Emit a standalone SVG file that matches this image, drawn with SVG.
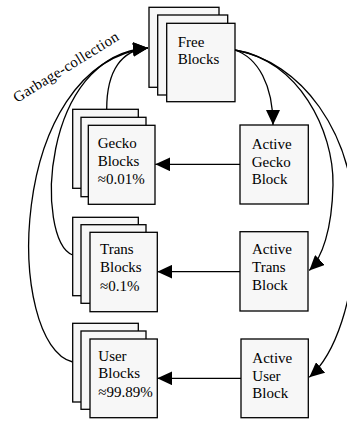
<svg xmlns="http://www.w3.org/2000/svg" width="347" height="422" viewBox="0 0 347 422">
<style>
  .box { fill: #f7f7f7; stroke: #000; stroke-width: 1.3; }
  .lbl { font-family: "Liberation Serif", "DejaVu Serif", serif; font-size: 15px; fill: #000; }
  .edge { fill: none; stroke: #000; stroke-width: 1.3; marker-end: url(#arr); }
  .edge2 { fill: none; stroke: #000; stroke-width: 1.3; }
</style>
<defs>
  <marker id="arr" viewBox="0 0 15 14" refX="15" refY="7" markerWidth="15" markerHeight="14" markerUnits="userSpaceOnUse" orient="auto">
    <path d="M0,0 L15,7 L0,14 z" fill="#000"/>
  </marker>
</defs>
<rect width="347" height="422" fill="#fff"/>

<g id="connectors">
  <!-- garbage collection to free blocks -->
  <path class="edge" d="M106.7,109.3 C106.7,70 122,50 148,48"/>
  <path class="edge" d="M72.7,255 C35,240 40,55 148,48"/>
  <path class="edge" d="M72.7,362 C5,345 5,65 148,48"/>
  <!-- free to active -->
  <path class="edge" d="M235,50 C258,58 273,85 273,125"/>
  <path class="edge" d="M235,50 C298,60 334,130 333,185 C332,230 322,258 309.3,270.5"/>
  <path class="edge" d="M235,50 C300,62 355,130 355,230 C355,300 335,355 309.3,377.3"/>
  <!-- active to stacks -->
  <path class="edge" d="M240,164.3 L155.3,164.3"/>
  <path class="edge" d="M240,271.7 L157.3,271.7"/>
  <path class="edge" d="M241,378.3 L157.3,378.3"/>
  <text class="lbl" x="17" y="103" transform="rotate(-31.7 17 103)" textLength="121" lengthAdjust="spacing">Garbage-collection</text>
</g>

<g id="free-blocks">
  <rect class="box" x="149" y="7.3" width="70" height="80"/>
  <rect class="box" x="157.7" y="15" width="70" height="80"/>
  <rect class="box" x="166.7" y="23.3" width="68.3" height="78.4"/>
  <text class="lbl" x="177.7" y="46.7">Free</text>
  <text class="lbl" x="177.7" y="64.3">Blocks</text>
</g>

<g id="gecko-blocks">
  <rect class="box" x="72.7" y="109.3" width="65.6" height="79"/>
  <rect class="box" x="81" y="117.3" width="65" height="79.4"/>
  <rect class="box" x="88.3" y="125.3" width="66.7" height="79"/>
  <text class="lbl" x="97.7" y="147.7">Gecko</text>
  <text class="lbl" x="97.7" y="165.7">Blocks</text>
  <text class="lbl" x="97.7" y="183.5">≈0.01%</text>
</g>

<g id="active-gecko">
  <rect class="box" x="240" y="125" width="68.3" height="79"/>
  <text class="lbl" x="251.7" y="149">Active</text>
  <text class="lbl" x="251.7" y="166.7">Gecko</text>
  <text class="lbl" x="251.7" y="184.3">Block</text>
</g>

<g id="trans-blocks">
  <rect class="box" x="72.7" y="217.3" width="65.6" height="78.4"/>
  <rect class="box" x="81" y="224.7" width="65" height="78.6"/>
  <rect class="box" x="90" y="232.3" width="67.3" height="79.4"/>
  <text class="lbl" x="100" y="254.3">Trans</text>
  <text class="lbl" x="100" y="272">Blocks</text>
  <text class="lbl" x="100" y="290.5">≈0.1%</text>
</g>

<g id="active-trans">
  <rect class="box" x="240" y="231.7" width="68" height="79.3"/>
  <text class="lbl" x="252" y="254.3">Active</text>
  <text class="lbl" x="252" y="272.3">Trans</text>
  <text class="lbl" x="252" y="290">Block</text>
</g>

<g id="user-blocks">
  <rect class="box" x="72.7" y="323.3" width="65.6" height="78.7"/>
  <rect class="box" x="81" y="331" width="65" height="78.3"/>
  <rect class="box" x="90" y="339" width="67.3" height="78.7"/>
  <text class="lbl" x="98.3" y="360.7">User</text>
  <text class="lbl" x="98.3" y="378.3">Blocks</text>
  <text class="lbl" x="98.3" y="396.7">≈99.89%</text>
</g>

<g id="active-user">
  <rect class="box" x="241" y="339" width="67.3" height="78.7"/>
  <text class="lbl" x="252.3" y="363.3">Active</text>
  <text class="lbl" x="252.3" y="381">User</text>
  <text class="lbl" x="252.3" y="398.3">Block</text>
</g>
</svg>
